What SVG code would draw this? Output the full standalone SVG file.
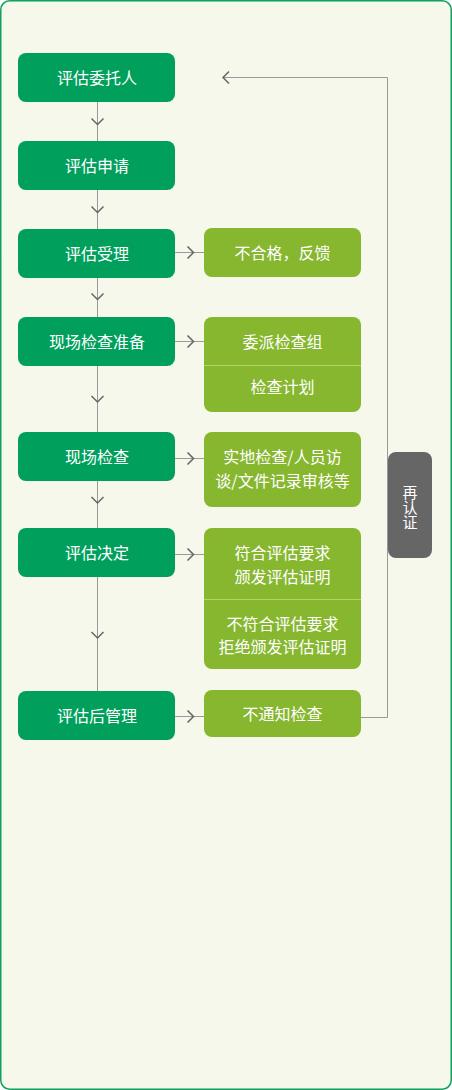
<svg xmlns="http://www.w3.org/2000/svg" width="452" height="1090" viewBox="0 0 452 1090">
<style>
.frame{fill:#f5f8eb;stroke:#10a060;stroke-width:1.5}
.main{fill:#00a05c}
.side{fill:#86b72f}
.grey{fill:#666666}
.t{font-family:"Microsoft YaHei","Noto Sans CJK SC",sans-serif;font-size:16px;fill:#ffffff;text-anchor:middle;dominant-baseline:central}
.v{font-family:"Microsoft YaHei","Noto Sans CJK SC",sans-serif;font-size:15px;fill:#ffffff;text-anchor:middle;writing-mode:vertical-rl}
.ln{fill:none;stroke:#999999;stroke-width:1}
.chev{fill:none;stroke:#666666;stroke-width:1.5}
.div{stroke:#b3d36a;stroke-width:1}
</style>
<rect class="frame" x="0.75" y="0.75" width="450.5" height="1088.5" rx="9"/>
<g id="connectors">
<line class="ln" x1="97.5" y1="102" x2="97.5" y2="691"/>
<path class="chev" d="M91.5 118.5 L97.5 124.5 L103.5 118.5"/>
<path class="chev" d="M91.5 206.5 L97.5 212.5 L103.5 206.5"/>
<path class="chev" d="M91.5 293.5 L97.5 299.5 L103.5 293.5"/>
<path class="chev" d="M91.5 396 L97.5 402 L103.5 396"/>
<path class="chev" d="M91.5 497 L97.5 503 L103.5 497"/>
<path class="chev" d="M91.5 632 L97.5 638 L103.5 632"/>
<line class="ln" x1="175" y1="252.5" x2="204" y2="252.5"/>
<path class="chev" d="M187.5 246.5 L193.5 252.5 L187.5 258.5"/>
<line class="ln" x1="175" y1="341.5" x2="204" y2="341.5"/>
<path class="chev" d="M187.5 335.5 L193.5 341.5 L187.5 347.5"/>
<line class="ln" x1="175" y1="458.5" x2="204" y2="458.5"/>
<path class="chev" d="M187.5 452.5 L193.5 458.5 L187.5 464.5"/>
<line class="ln" x1="175" y1="554.5" x2="204" y2="554.5"/>
<path class="chev" d="M187.5 548.5 L193.5 554.5 L187.5 560.5"/>
<line class="ln" x1="175" y1="716.5" x2="204" y2="716.5"/>
<path class="chev" d="M187.5 710.5 L193.5 716.5 L187.5 722.5"/>
<path class="ln" d="M361 717.5 H387.5 V77.5 H223"/>
<path class="chev" d="M229 71.5 L223 77.5 L229 83.5"/>
</g>
<g id="n1"><rect class="main" x="18" y="53" width="157" height="49" rx="8"/><text class="t" x="97" y="77">评估委托人</text></g>
<g id="n2"><rect class="main" x="18" y="141" width="157" height="49" rx="8"/><text class="t" x="97" y="165">评估申请</text></g>
<g id="n3"><rect class="main" x="18" y="229" width="157" height="49" rx="8"/><text class="t" x="97" y="253">评估受理</text></g>
<g id="n4"><rect class="main" x="18" y="317" width="157" height="49" rx="8"/><text class="t" x="97" y="341">现场检查准备</text></g>
<g id="n5"><rect class="main" x="18" y="432" width="157" height="49" rx="8"/><text class="t" x="97" y="456">现场检查</text></g>
<g id="n6"><rect class="main" x="18" y="528" width="157" height="49" rx="8"/><text class="t" x="97" y="552">评估决定</text></g>
<g id="n7"><rect class="main" x="18" y="691" width="157" height="49" rx="8"/><text class="t" x="97" y="715">评估后管理</text></g>
<g id="r1"><rect class="side" x="204" y="228" width="157" height="49" rx="8"/><text class="t" x="282.5" y="252">不合格，反馈</text></g>
<g id="r2"><rect class="side" x="204" y="317" width="157" height="95" rx="8"/><line class="div" x1="204" y1="365.5" x2="361" y2="365.5"/><text class="t" x="282.5" y="341">委派检查组</text><text class="t" x="282.5" y="386">检查计划</text></g>
<g id="r3"><rect class="side" x="204" y="432" width="157" height="75" rx="8"/><text class="t" x="282.5" y="456">实地检查/人员访</text><text class="t" x="282.5" y="480">谈/文件记录审核等</text></g>
<g id="r4"><rect class="side" x="204" y="528" width="157" height="141" rx="8"/><line class="div" x1="204" y1="599.5" x2="361" y2="599.5"/><text class="t" x="282.5" y="552">符合评估要求</text><text class="t" x="282.5" y="576">颁发评估证明</text><text class="t" x="282.5" y="623">不符合评估要求</text><text class="t" x="282.5" y="646">拒绝颁发评估证明</text></g>
<g id="r5"><rect class="side" x="204" y="690" width="157" height="47" rx="8"/><text class="t" x="282.5" y="713">不通知检查</text></g>
<g id="recert"><rect class="grey" x="388" y="452" width="44" height="106" rx="8"/><text class="v" x="410" y="507">再认证</text></g>
</svg>
